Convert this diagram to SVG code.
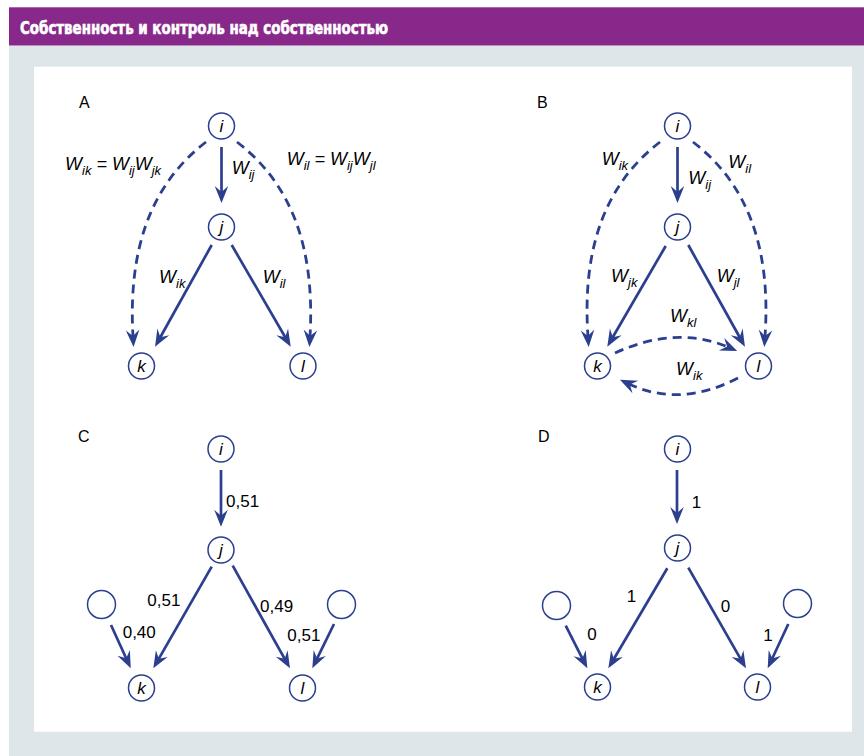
<svg xmlns="http://www.w3.org/2000/svg" width="864" height="756" viewBox="0 0 864 756">
<style>
.nd{fill:#fff;stroke:#2b3f8e;stroke-width:1.5}
.nl{font-family:"Liberation Sans",Arial,sans-serif;font-style:italic;font-size:17px;fill:#000;text-anchor:middle}
.w{font-family:"Liberation Sans",Arial,sans-serif;font-style:italic;font-size:18px;fill:#000}
.s{font-size:13px}
.num{font-family:"Liberation Sans",Arial,sans-serif;font-size:17px;fill:#000}
.pl{font-family:"Liberation Sans",Arial,sans-serif;font-size:16px;fill:#000}
.sol{fill:none;stroke:#2b3f8e;stroke-width:2.7;marker-end:url(#ah)}
.dsh{fill:none;stroke:#2b3f8e;stroke-width:2.8;stroke-dasharray:9 6;marker-end:url(#ah)}
</style>
<defs>
<marker id="ah" markerUnits="userSpaceOnUse" viewBox="-8 -8 20 16" refX="0" refY="0" markerWidth="20" markerHeight="16" orient="auto" overflow="visible">
<path d="M10,0 L-7,-6.8 L-1,0 L-7,6.8 Z" fill="#2b3f8e"/>
</marker>
</defs>
<rect x="9" y="7.3" width="855" height="38.4" fill="#88288a"/>
<text x="20" y="34" font-family="'Liberation Sans Narrow','DejaVu Sans Condensed','Liberation Sans',sans-serif" font-weight="bold" font-size="18" fill="#fff" stroke="#fff" stroke-width="0.6" textLength="368" lengthAdjust="spacingAndGlyphs">Собственность и контроль над собственностью</text>
<rect x="9" y="45.7" width="855" height="710.3" fill="#dfe6ea"/>
<rect x="34" y="66.7" width="818" height="665" fill="#fff"/>

<text class="pl" x="79" y="108">A</text>
<text class="pl" x="537" y="108">B</text>
<text class="pl" x="78" y="442">C</text>
<text class="pl" x="538" y="442">D</text>

<g id="connectors">
<!-- A -->
<path class="sol" d="M221.5,147 L221.5,193"/>
<path class="sol" d="M211.7,245 L159.9,338"/>
<path class="sol" d="M231.7,245 L285.7,338"/>
<path class="dsh" d="M206,142 C150,185 128,250 133,337"/>
<path class="dsh" d="M237,142 C293,185 315,250 310,337"/>
<!-- B -->
<path class="sol" d="M677.5,147 L677.5,193"/>
<path class="sol" d="M665.7,246 L612.3,338"/>
<path class="sol" d="M688.3,245 L740.1,338"/>
<path class="dsh" d="M660,142 C604,185 582,250 588,337"/>
<path class="dsh" d="M693,142 C749,185 771,250 765,337"/>
<path class="dsh" d="M615,353 Q676,325 728,347" stroke-dasharray="2 6 9 6 9 6 9 6 9 6 9 6 9 6 9 6"/>
<path class="dsh" d="M738,378 Q680,408 629,384"/>
<!-- C -->
<path class="sol" d="M221,470 L221,516.7"/>
<path class="sol" d="M211.7,566.7 L158.3,659.6"/>
<path class="sol" d="M232.7,565.7 L285.1,659.6"/>
<path class="sol" d="M111,625 L126.6,659.2"/>
<path class="sol" d="M334,624 L316.7,659.3"/>
<!-- D -->
<path class="sol" d="M677,470 L677,514"/>
<path class="sol" d="M667.3,568.3 L613.4,659.7"/>
<path class="sol" d="M688.3,567.7 L741,659.6"/>
<path class="sol" d="M565.7,625.7 L582.8,659.4"/>
<path class="sol" d="M788.3,624 L771.9,659.3"/>
</g>

<g id="labels">
<text class="w" x="65" y="170">W<tspan class="s" dy="5">ik</tspan><tspan dy="-5"> = W</tspan><tspan class="s" dy="5">ij</tspan><tspan dy="-5">W</tspan><tspan class="s" dy="5">jk</tspan></text>
<text class="w" x="286.7" y="165">W<tspan class="s" dy="5">il</tspan><tspan dy="-5"> = W</tspan><tspan class="s" dy="5">ij</tspan><tspan dy="-5">W</tspan><tspan class="s" dy="5">jl</tspan></text>
<text class="w" x="231.7" y="174">W<tspan class="s" dy="5">ij</tspan></text>
<text class="w" x="159" y="283">W<tspan class="s" dy="5">ik</tspan></text>
<text class="w" x="262.7" y="283">W<tspan class="s" dy="5">il</tspan></text>

<text class="w" x="601.7" y="165">W<tspan class="s" dy="5">ik</tspan></text>
<text class="w" x="728.3" y="168">W<tspan class="s" dy="5">il</tspan></text>
<text class="w" x="688.3" y="184">W<tspan class="s" dy="5">ij</tspan></text>
<text class="w" x="611" y="281.7">W<tspan class="s" dy="5">jk</tspan></text>
<text class="w" x="716.7" y="281.7">W<tspan class="s" dy="5">jl</tspan></text>
<text class="w" x="670" y="321.7">W<tspan class="s" dy="5">kl</tspan></text>
<text class="w" x="676" y="375">W<tspan class="s" dy="5">ik</tspan></text>

<text class="num" x="226" y="507.3">0,51</text>
<text class="num" x="147.3" y="605.7">0,51</text>
<text class="num" x="260" y="612.3">0,49</text>
<text class="num" x="122.7" y="638.3">0,40</text>
<text class="num" x="287.3" y="641">0,51</text>

<text class="num" x="691.7" y="508.3">1</text>
<text class="num" x="626.7" y="601.7">1</text>
<text class="num" x="720.7" y="611.7">0</text>
<text class="num" x="587.3" y="640">0</text>
<text class="num" x="763.3" y="640.7">1</text>
</g>

<g id="A-i"><circle class="nd" cx="221.5" cy="126" r="13"/><text class="nl" x="221.5" y="132">i</text></g>
<g id="A-j"><circle class="nd" cx="221.5" cy="227" r="13"/><text class="nl" x="221.5" y="233">j</text></g>
<g id="A-k"><circle class="nd" cx="141.5" cy="366" r="13"/><text class="nl" x="141.5" y="372">k</text></g>
<g id="A-l"><circle class="nd" cx="303" cy="366" r="13"/><text class="nl" x="303" y="372">l</text></g>

<g id="B-i"><circle class="nd" cx="677.5" cy="126" r="13"/><text class="nl" x="677.5" y="132">i</text></g>
<g id="B-j"><circle class="nd" cx="677.5" cy="227" r="13"/><text class="nl" x="677.5" y="233">j</text></g>
<g id="B-k"><circle class="nd" cx="597.5" cy="366" r="13"/><text class="nl" x="597.5" y="372">k</text></g>
<g id="B-l"><circle class="nd" cx="758.5" cy="366" r="13"/><text class="nl" x="758.5" y="372">l</text></g>

<g id="C-i"><circle class="nd" cx="221" cy="449" r="13"/><text class="nl" x="221" y="455">i</text></g>
<g id="C-j"><circle class="nd" cx="221" cy="550" r="13"/><text class="nl" x="221" y="556">j</text></g>
<g id="C-k"><circle class="nd" cx="141.5" cy="688" r="13"/><text class="nl" x="141.5" y="694">k</text></g>
<g id="C-l"><circle class="nd" cx="302.5" cy="688" r="13"/><text class="nl" x="302.5" y="694">l</text></g>
<g id="C-e1"><circle class="nd" cx="101.5" cy="604.5" r="14"/></g>
<g id="C-e2"><circle class="nd" cx="341.5" cy="604.5" r="14"/></g>

<g id="D-i"><circle class="nd" cx="677.5" cy="449" r="13"/><text class="nl" x="677.5" y="455">i</text></g>
<g id="D-j"><circle class="nd" cx="677.5" cy="548" r="13"/><text class="nl" x="677.5" y="554">j</text></g>
<g id="D-k"><circle class="nd" cx="597.5" cy="687" r="13"/><text class="nl" x="597.5" y="693">k</text></g>
<g id="D-l"><circle class="nd" cx="757.5" cy="687" r="13"/><text class="nl" x="757.5" y="693">l</text></g>
<g id="D-e1"><circle class="nd" cx="556.5" cy="605.5" r="14"/></g>
<g id="D-e2"><circle class="nd" cx="797.5" cy="603.5" r="14"/></g>
</svg>
